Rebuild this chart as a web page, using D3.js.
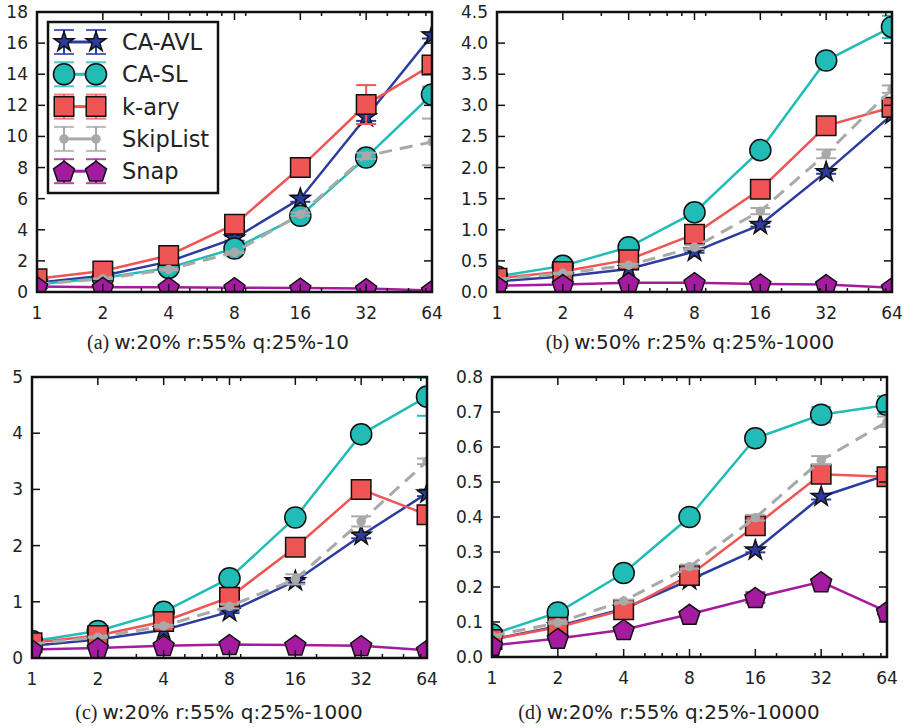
<!DOCTYPE html>
<html>
<head>
<meta charset="utf-8">
<script src="https://cdn.jsdelivr.net/npm/d3@7"></script>
<style>
  body { margin: 0; background: #fff; }
  svg { display: block; }
</style>
</head>
<body>
<div id="chart"></div>
<script>
const threads = [1, 2, 4, 8, 16, 32, 64];
const minorTicks = [3, 5, 6, 7, 9, 20, 30, 40, 50, 60];
const seriesNames = ['CA-AVL', 'CA-SL', 'k-ary', 'SkipList', 'Snap'];
const captions = ['w:20% r:55% q:25%-10', 'w:50% r:25% q:25%-1000', 'w:20% r:55% q:25%-1000', 'w:20% r:55% q:25%-10000'];
const captionTags = ['(a)', '(b)', '(c)', '(d)'];

// (a)
const avlA = [0.6, 1.05, 1.95, 3.45, 6.0, 11.25, 16.5];
const slA = [0.5, 0.9, 1.55, 2.8, 4.9, 8.65, 12.7];
const karyA = [0.85, 1.35, 2.35, 4.35, 8.0, 12.05, 14.6];
const skipA = [0.5, 0.85, 1.45, 2.55, 5.0, 8.75, 9.65];
const snapA = [0.35, 0.3, 0.3, 0.28, 0.25, 0.22, 0.1];
const errA = [[0, 0.05, 0.1, 0.15, 0.2, 0.25, 0.2],
              [0, 0, 0.05, 0.1, 0.1, 0.1, 0.5],
              [0, 0, 0.05, 0.1, 0.1, 1.25, 0.45],
              [0.02, 0.03, 0.05, 0.05, 0.1, 0.2, 1.5],
              [0, 0, 0, 0, 0, 0, 0]];
// (b)
const avlB = [0.17, 0.25, 0.37, 0.65, 1.08, 1.93, 2.85];
const slB = [0.25, 0.42, 0.72, 1.28, 2.28, 3.72, 4.26];
const karyB = [0.22, 0.33, 0.52, 0.93, 1.65, 2.67, 2.97];
const skipB = [0.2, 0.3, 0.43, 0.72, 1.3, 2.22, 3.26];
const snapB = [0.1, 0.12, 0.15, 0.15, 0.13, 0.12, 0.07];
const errB = [[0, 0, 0.01, 0.02, 0.03, 0.03, 0.03],
              [0, 0, 0.01, 0.01, 0.02, 0.03, 0.18],
              [0, 0, 0.01, 0.02, 0.02, 0.03, 0.05],
              [0.01, 0.01, 0.02, 0.03, 0.05, 0.07, 0.06],
              [0, 0, 0, 0, 0, 0, 0]];
// (c)
const avlC = [0.22, 0.33, 0.5, 0.82, 1.37, 2.18, 2.93];
const slC = [0.3, 0.48, 0.82, 1.42, 2.5, 3.98, 4.65];
const karyC = [0.27, 0.4, 0.65, 1.08, 1.97, 3.0, 2.55];
const skipC = [0.25, 0.37, 0.57, 0.92, 1.4, 2.43, 3.5];
const snapC = [0.15, 0.18, 0.22, 0.24, 0.23, 0.22, 0.14];
const errC = [[0, 0, 0.01, 0.02, 0.03, 0.05, 0.05],
              [0, 0, 0.01, 0.02, 0.03, 0.05, 0.34],
              [0, 0, 0.01, 0.02, 0.03, 0.05, 0.05],
              [0.01, 0.01, 0.02, 0.04, 0.09, 0.09, 0.05],
              [0, 0, 0, 0, 0, 0, 0]];
// (d)
const avlD = [0.05, 0.088, 0.138, 0.22, 0.305, 0.458, 0.52];
const slD = [0.065, 0.127, 0.24, 0.4, 0.625, 0.692, 0.72];
const karyD = [0.05, 0.085, 0.135, 0.233, 0.375, 0.522, 0.515];
const skipD = [0.06, 0.098, 0.16, 0.258, 0.398, 0.562, 0.672];
const snapD = [0.033, 0.053, 0.078, 0.122, 0.17, 0.215, 0.13];
const errD = [[0, 0, 0.002, 0.004, 0.006, 0.008, 0.006],
              [0, 0.002, 0.004, 0.004, 0.012, 0.022, 0.025],
              [0, 0.002, 0.003, 0.004, 0.008, 0.013, 0.01],
              [0.002, 0.003, 0.004, 0.006, 0.008, 0.012, 0.015],
              [0.002, 0.002, 0.003, 0.004, 0.015, 0.005, 0.008]];

const colors = ['#2c3c9e', '#22bcb6', '#f05555', '#a9a9a9', '#a41b9f'];
const markers = ['star', 'circle', 'square', 'dot', 'pentagon'];

const panels = [
  {data: [avlA, slA, karyA, skipA, snapA], err: errA, yMax: 18, yStep: 2, fmt: 'd',
   x0: 37, x1: 432, y0: 12, y1: 292, capX: 218, capY: 349, legend: true},
  {data: [avlB, slB, karyB, skipB, snapB], err: errB, yMax: 4.5, yStep: 0.5, fmt: '.1f',
   x0: 497, x1: 892, y0: 12, y1: 292, capX: 690, capY: 349},
  {data: [avlC, slC, karyC, skipC, snapC], err: errC, yMax: 5, yStep: 1, fmt: 'd',
   x0: 32, x1: 427, y0: 377, y1: 658, capX: 219, capY: 719},
  {data: [avlD, slD, karyD, skipD, snapD], err: errD, yMax: 0.8, yStep: 0.1, fmt: '.1f',
   x0: 492, x1: 887, y0: 377, y1: 657, capX: 669, capY: 719}
];

const width = 915, height = 728;
const svg = d3.select('#chart').append('svg')
  .attr('width', width).attr('height', height)
  .style('font-family', '"DejaVu Sans", sans-serif');

function markerPath(type) {
  if (type === 'star') return d3.symbol(d3.symbolStar, 122)();
  if (type === 'square') return d3.symbol(d3.symbolSquare, 380)();
  if (type === 'circle') return d3.symbol(d3.symbolCircle, 350)();
  if (type === 'dot') return d3.symbol(d3.symbolCircle, 70)();
  // pentagon, point up
  let r = 11, pts = d3.range(5).map(i => {
    let a = -Math.PI / 2 + i * 2 * Math.PI / 5;
    return [r * Math.cos(a), r * Math.sin(a) + 1];
  });
  return 'M' + pts.join('L') + 'Z';
}

function drawMarker(g, type, color, x, y) {
  g.append('path')
    .attr('d', markerPath(type))
    .attr('transform', `translate(${x},${y})`)
    .attr('fill', color)
    .attr('stroke', type === 'dot' ? 'none' : '#111')
    .attr('stroke-width', 1.5);
}

function drawPanel(p, idx) {
  let xScale = d3.scaleLog().base(2).domain([1, 64]).range([p.x0, p.x1]);
  let yScale = d3.scaleLinear().domain([0, p.yMax]).range([p.y1, p.y0]);
  let g = svg.append('g').attr('id', 'panel_' + idx);

  g.append('clipPath').attr('id', 'clip_' + idx)
    .append('rect')
    .attr('x', p.x0).attr('y', p.y0)
    .attr('width', p.x1 - p.x0).attr('height', p.y1 - p.y0);

  let plot = g.append('g').attr('clip-path', `url(#clip_${idx})`);

  let line = d3.line()
    .x((d, i) => xScale(threads[i]))
    .y(d => yScale(d));

  p.data.forEach((values, s) => {
    let sg = plot.append('g');
    // error bars
    values.forEach((v, i) => {
      let e = p.err[s][i];
      if (!e) return;
      let x = xScale(threads[i]);
      sg.append('line')
        .attr('x1', x).attr('x2', x)
        .attr('y1', yScale(v - e)).attr('y2', yScale(v + e))
        .attr('stroke', colors[s]).attr('stroke-width', 2);
      [v - e, v + e].forEach(c => {
        sg.append('line')
          .attr('x1', x - 10).attr('x2', x + 10)
          .attr('y1', yScale(c)).attr('y2', yScale(c))
          .attr('stroke', colors[s]).attr('stroke-width', 2);
      });
    });
    sg.append('path')
      .attr('d', line(values))
      .attr('fill', 'none')
      .attr('stroke', colors[s])
      .attr('stroke-width', s === 3 ? 3 : 2.5)
      .attr('stroke-dasharray', s === 3 ? '13,8' : null);
    values.forEach((v, i) => drawMarker(sg, markers[s], colors[s], xScale(threads[i]), yScale(v)));
  });

  // ticks, inward on all four sides
  let yTicks = d3.range(0, p.yMax + p.yStep / 2, p.yStep);
  let axes = g.append('g').attr('stroke', '#111').attr('stroke-width', 1.5);
  yTicks.forEach(t => {
    let y = yScale(t);
    axes.append('line').attr('x1', p.x0).attr('x2', p.x0 + 8).attr('y1', y).attr('y2', y);
    axes.append('line').attr('x1', p.x1).attr('x2', p.x1 - 8).attr('y1', y).attr('y2', y);
  });
  threads.forEach(t => {
    let x = xScale(t);
    axes.append('line').attr('x1', x).attr('x2', x).attr('y1', p.y1).attr('y2', p.y1 - 8);
    axes.append('line').attr('x1', x).attr('x2', x).attr('y1', p.y0).attr('y2', p.y0 + 8);
  });
  minorTicks.forEach(t => {
    let x = xScale(t);
    axes.append('line').attr('x1', x).attr('x2', x).attr('y1', p.y1).attr('y2', p.y1 - 4);
    axes.append('line').attr('x1', x).attr('x2', x).attr('y1', p.y0).attr('y2', p.y0 + 4);
  });

  g.append('rect')
    .attr('x', p.x0).attr('y', p.y0)
    .attr('width', p.x1 - p.x0).attr('height', p.y1 - p.y0)
    .attr('fill', 'none').attr('stroke', '#111').attr('stroke-width', 2.5);

  let fmt = d3.format(p.fmt);
  g.append('g').selectAll('text').data(yTicks).enter().append('text')
    .attr('x', p.x0 - 9).attr('y', d => yScale(d))
    .attr('text-anchor', 'end').attr('dy', '0.35em')
    .attr('font-size', 17).attr('fill', '#222')
    .text(d => fmt(d));
  g.append('g').selectAll('text').data(threads).enter().append('text')
    .attr('x', d => xScale(d)).attr('y', p.y1 + 27)
    .attr('text-anchor', 'middle')
    .attr('font-size', 17).attr('fill', '#222')
    .text(d => d);

  let cap = g.append('text')
    .attr('x', p.capX).attr('y', p.capY)
    .attr('text-anchor', 'middle').attr('font-size', 20).attr('fill', '#222');
  cap.append('tspan').attr('font-family', '"Liberation Serif", serif').text(captionTags[idx] + ' ');
  cap.append('tspan').text(captions[idx]);

  if (p.legend) drawLegend(g);
}

function drawLegend(g) {
  let lg = g.append('g');
  lg.append('rect')
    .attr('x', 48).attr('y', 22).attr('width', 170).attr('height', 171)
    .attr('fill', '#fff').attr('stroke', '#111').attr('stroke-width', 2.5);
  seriesNames.forEach((name, s) => {
    let y = 42 + s * 32.3;
    lg.append('line')
      .attr('x1', 64).attr('x2', 96).attr('y1', y).attr('y2', y)
      .attr('stroke', colors[s]).attr('stroke-width', 3);
    [64, 96].forEach(x => {
      lg.append('line').attr('x1', x).attr('x2', x).attr('y1', y - 12).attr('y2', y + 12)
        .attr('stroke', colors[s]).attr('stroke-width', 2);
      [y - 12, y + 12].forEach(c => {
        lg.append('line').attr('x1', x - 10).attr('x2', x + 10).attr('y1', c).attr('y2', c)
          .attr('stroke', colors[s]).attr('stroke-width', 2).attr('opacity', 0.8);
      });
      drawMarker(lg, markers[s], colors[s], x, y);
    });
    lg.append('text')
      .attr('x', 122).attr('y', y).attr('dy', '0.36em')
      .attr('font-size', 22.5).attr('fill', '#222')
      .text(name);
  });
}

panels.forEach(drawPanel);
</script>
</body>
</html>
